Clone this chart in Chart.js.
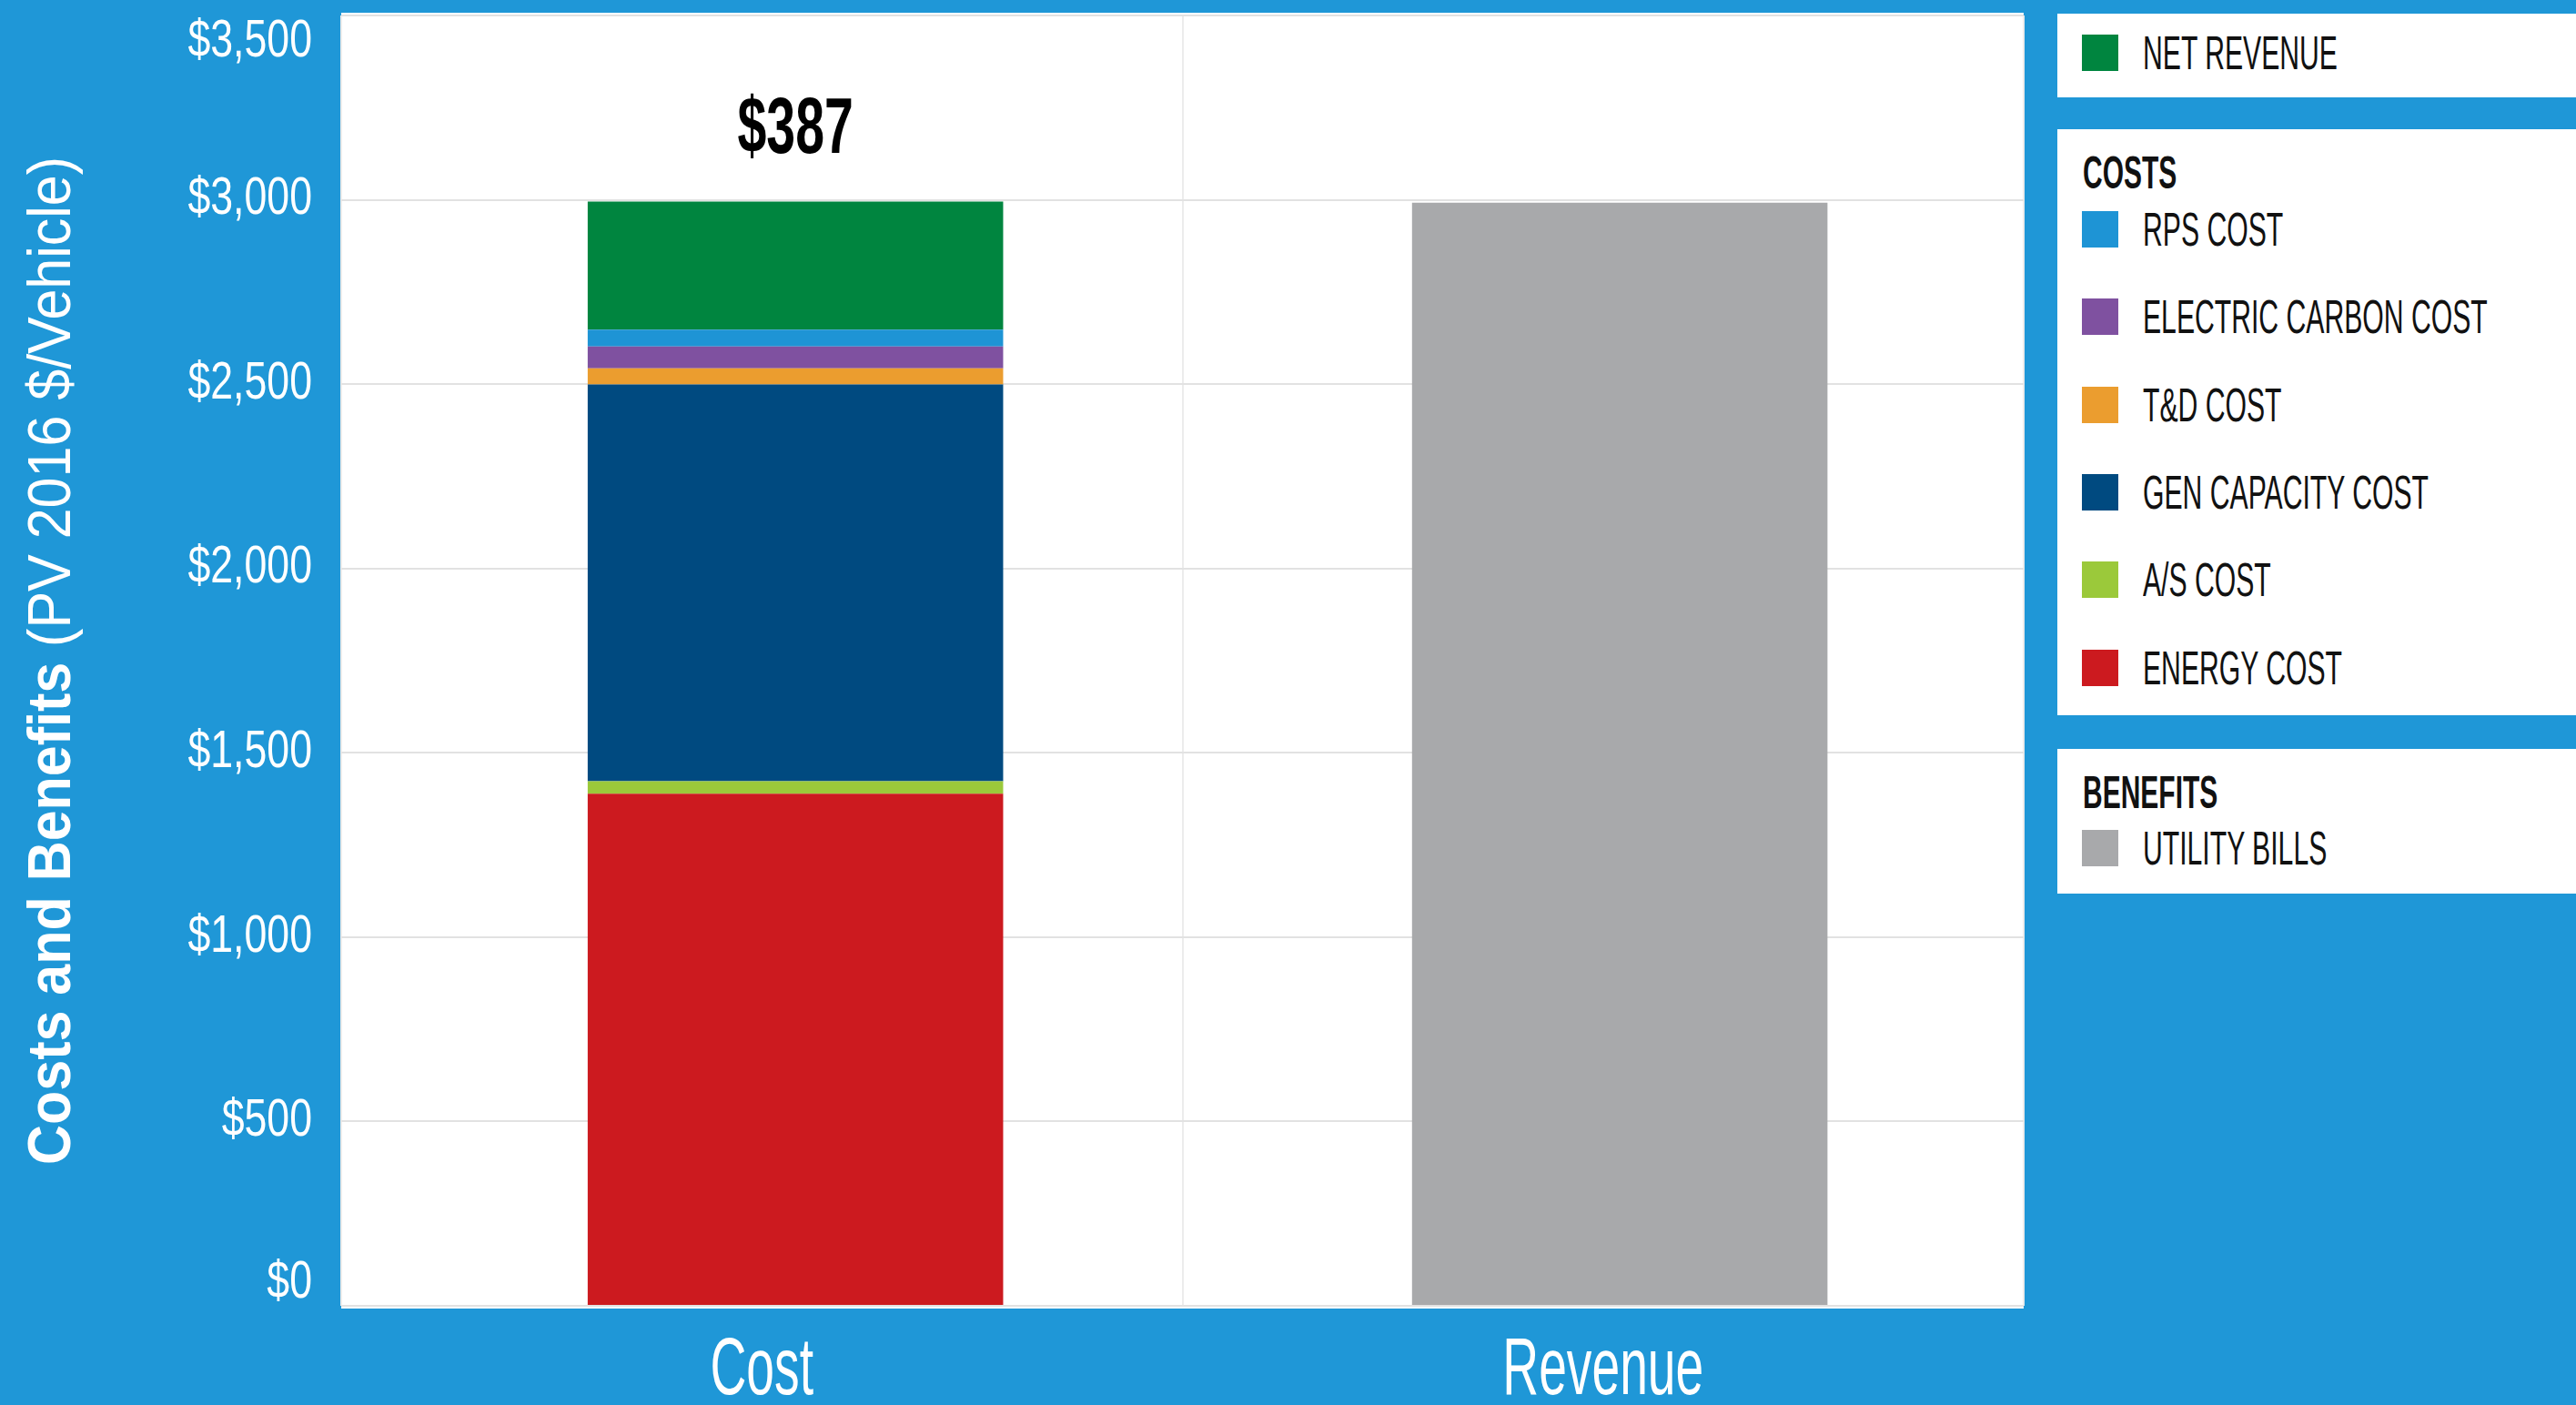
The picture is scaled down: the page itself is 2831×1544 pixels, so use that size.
<!DOCTYPE html>
<html>
<head>
    <title>Costs and Benefits</title>
    <script src="https://cdn.jsdelivr.net/npm/chart.js"></script>
    <style>
        body {
            margin: 0;
            width: 2831px;
            height: 1544px;
            overflow: hidden;
            position: relative;
            background: #1f97d7;
            font-family: 'Liberation Sans', Arial, sans-serif;
        }
        #wrap {
            position: absolute;
            left: 0;
            top: 0;
            width: 2240px;
            height: 1544px;
        }
        .box {
            position: absolute;
            left: 2261px;
            right: 0;
            background: #fff;
        }
        .head {
            margin: 26px 0 0 28px;
            height: 44px;
            line-height: 44px;
            font-size: 50px;
            font-weight: bold;
            color: #111;
        }
        .list { margin-top: -8px; }
        .item {
            display: flex;
            align-items: center;
            color: #111;
            font-size: 52px;
        }
        .sw {
            width: 40px;
            height: 40px;
            margin: 0 27px 0 27px;
            flex: none;
        }
        .squeeze {
            display: inline-block;
            white-space: nowrap;
            transform: scaleX(0.58);
            transform-origin: left center;
        }
        .head .squeeze { transform: scaleX(0.6); }
    </style>
</head>
<body>
    <div id="wrap"><canvas id="costChart"></canvas></div>
    <div id="legend"></div>

    <script>
    // values, $ per vehicle
    const categories = ['Cost', 'Revenue'];
    const energyCost = [1389, null];
    const asCost = [34, null];
    const genCapacityCost = [1076, null];
    const tdCost = [44, null];
    const carbonCost = [59, null];
    const rpsCost = [46, null];
    const netRevenue = [347, null];
    const utilityBills = [null, 2992];
    const netRevenueLabel = '$387';

    const yMin = 0, yMax = 3500, yStep = 500;

    // stacking order, bottom first
    const seriesNames = ['ENERGY COST', 'A/S COST', 'GEN CAPACITY COST', 'T&D COST',
        'ELECTRIC CARBON COST', 'RPS COST', 'NET REVENUE', 'UTILITY BILLS'];
    const seriesData = [energyCost, asCost, genCapacityCost, tdCost,
        carbonCost, rpsCost, netRevenue, utilityBills];
    const seriesColors = ['#cc1a1f', '#9bc93a', '#004a80', '#eb9d2f',
        '#7f51a0', '#1e94d5', '#00853f', '#a8a9ab'];

    const legendGroups = [
        { title: null, items: ['NET REVENUE'] },
        { title: 'COSTS', items: ['RPS COST', 'ELECTRIC CARBON COST', 'T&D COST', 'GEN CAPACITY COST', 'A/S COST', 'ENERGY COST'] },
        { title: 'BENEFITS', items: ['UTILITY BILLS'] }
    ];

    const FONT = "'Liberation Sans', Arial, sans-serif";

    // draw text horizontally squeezed, y is the middle of the capitals
    function squeezeText(ctx, text, x, y, size, weight, sx, align) {
        ctx.save();
        ctx.font = weight + ' ' + size + 'px ' + FONT;
        ctx.translate(x, y + size * 0.358);
        ctx.scale(sx, 1);
        ctx.textAlign = align;
        ctx.textBaseline = 'alphabetic';
        ctx.fillText(text, 0, 0);
        ctx.restore();
    }

    // white plot area behind the bars
    const plotBg = {
        id: 'plotBg',
        beforeDraw(chart) {
            const { ctx, chartArea: a } = chart;
            ctx.save();
            ctx.fillStyle = '#fff';
            ctx.fillRect(a.left, a.top - 3, a.right - a.left, a.bottom - a.top + 6);
            ctx.restore();
        }
    };

    // tick labels in a condensed look, positions from the scales
    const tickText = {
        id: 'tickText',
        afterDraw(chart) {
            const { ctx, chartArea: a } = chart;
            const ys = chart.scales.y, xs = chart.scales.x;
            ctx.save();
            ctx.fillStyle = '#fff';
            ys.ticks.forEach((t, i) => {
                let py = ys.getPixelForTick(i) - 5;
                py = Math.min(Math.max(py, a.top + 24.5), a.bottom - 30);
                squeezeText(ctx, t.label, a.left - 32, py, 58, 'normal', 0.77, 'right');
            });
            xs.ticks.forEach((t, i) => {
                squeezeText(ctx, t.label, xs.getPixelForTick(i), a.bottom + 65, 89, 'normal', 0.62, 'center');
            });
            ctx.restore();
        }
    };

    // rotated axis title, bold + regular parts
    const yTitle = {
        id: 'yTitle',
        afterDraw(chart) {
            const { ctx, chartArea: a } = chart;
            const boldPart = 'Costs and Benefits ';
            const regPart = '(PV 2016 $/Vehicle)';
            ctx.save();
            ctx.translate(53, (a.top + a.bottom) / 2);
            ctx.rotate(-Math.PI / 2);
            ctx.scale(0.91, 1);
            ctx.fillStyle = '#fff';
            ctx.textBaseline = 'alphabetic';
            ctx.font = 'bold 67px ' + FONT;
            const wb = ctx.measureText(boldPart).width;
            ctx.font = '67px ' + FONT;
            const wr = ctx.measureText(regPart).width;
            const x = -(wb + wr) / 2;
            const base = 67 * 0.358;
            ctx.font = 'bold 67px ' + FONT;
            ctx.fillText(boldPart, x, base);
            ctx.font = '67px ' + FONT;
            ctx.fillText(regPart, x + wb, base);
            ctx.restore();
        }
    };

    // net revenue label above the cost stack
    const netLabel = {
        id: 'netLabel',
        afterDatasetsDraw(chart) {
            const idx = seriesNames.indexOf('NET REVENUE');
            const bar = chart.getDatasetMeta(idx).data[0];
            const { ctx } = chart;
            ctx.save();
            ctx.fillStyle = '#000';
            squeezeText(ctx, netRevenueLabel, bar.x, bar.y - 85.5, 88, 'bold', 0.65, 'center');
            ctx.restore();
        }
    };

    const chartData = {
        labels: categories,
        datasets: seriesNames.map((name, i) => ({
            label: name,
            data: seriesData[i].map((v, j) => ({ x: j, y: v })),
            xAxisID: 'xb',
            backgroundColor: seriesColors[i],
            borderWidth: 0,
            categoryPercentage: 1,
            barPercentage: 0.504
        }))
    };

    new Chart(document.getElementById('costChart').getContext('2d'), {
        type: 'bar',
        data: chartData,
        options: {
            responsive: true,
            maintainAspectRatio: false,
            animation: false,
            layout: { padding: { top: 17, right: 16, bottom: 0, left: 0 } },
            plugins: {
                legend: { display: false },
                tooltip: { enabled: false }
            },
            scales: {
                x: {
                    type: 'category',
                    offset: true,
                    grid: { color: '#ececec', lineWidth: 2, drawTicks: false, offset: true },
                    border: { display: false },
                    ticks: { display: false },
                    afterFit: s => { s.height = 109; s.paddingLeft = 0; s.paddingRight = 0; }
                },
                // bars sit a little right of the category centres in the original
                xb: {
                    type: 'linear',
                    display: false,
                    stacked: true,
                    offset: false,
                    grid: { offset: false },
                    min: -0.551,
                    max: 1.49,
                    afterBuildTicks: s => { s.ticks = categories.map((c, i) => ({ value: i })); }
                },
                y: {
                    stacked: true,
                    min: yMin,
                    max: yMax,
                    grid: { color: '#e2e2e2', lineWidth: 2, drawTicks: false },
                    border: { display: false },
                    ticks: {
                        display: false,
                        stepSize: yStep,
                        callback: v => '$' + v.toLocaleString('en-US')
                    },
                    afterFit: s => { s.width = 375; s.paddingTop = 0; s.paddingBottom = 0; }
                }
            }
        },
        plugins: [plotBg, tickText, yTitle, netLabel]
    });

    // grouped legend boxes on the right
    function buildLegend() {
        const boxes = [
            { top: 15, height: 92, itemH: 85 },
            { top: 142, height: 644, itemH: 96.3 },
            { top: 823, height: 159, itemH: 93 }
        ];
        const root = document.getElementById('legend');
        legendGroups.forEach((g, gi) => {
            const b = boxes[gi];
            const box = document.createElement('div');
            box.className = 'box';
            box.style.top = b.top + 'px';
            box.style.height = b.height + 'px';
            if (g.title) {
                const h = document.createElement('div');
                h.className = 'head';
                h.innerHTML = '<span class="squeeze">' + g.title + '</span>';
                box.appendChild(h);
            }
            const list = document.createElement('div');
            list.className = 'list';
            if (!g.title) list.style.marginTop = '0';
            g.items.forEach(name => {
                const row = document.createElement('div');
                row.className = 'item';
                row.style.height = b.itemH + 'px';
                const sw = document.createElement('div');
                sw.className = 'sw';
                sw.style.background = seriesColors[seriesNames.indexOf(name)];
                const txt = document.createElement('span');
                txt.className = 'squeeze';
                txt.textContent = name;
                row.appendChild(sw);
                row.appendChild(txt);
                list.appendChild(row);
            });
            box.appendChild(list);
            root.appendChild(box);
        });
    }
    buildLegend();
    </script>
</body>
</html>
